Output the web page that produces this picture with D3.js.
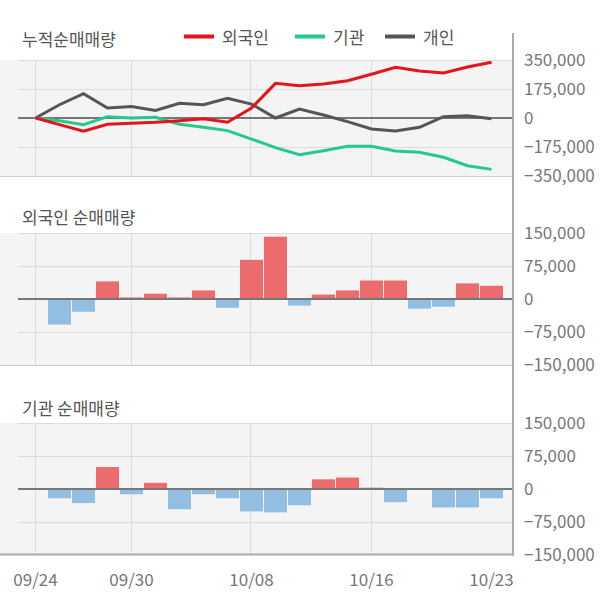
<!DOCTYPE html>
<html><head><meta charset="utf-8">
<script src="https://cdn.jsdelivr.net/npm/d3@7"></script>
<style>
html,body{margin:0;padding:0;background:#fff;}
svg{display:block;font-family:"Noto Sans CJK KR","Noto Sans",sans-serif;}
</style></head>
<body>
<svg id="c" width="600" height="604"></svg>
<script>
// ---- data ----
const dates = ["09/24","09/25","09/26","09/27","09/30","10/01","10/02","10/04","10/07","10/08",
               "10/10","10/11","10/14","10/15","10/16","10/17","10/18","10/21","10/22","10/23"];
const dateTicks = [0, 4, 9, 14, 19];
const gridTicks = [0, 4, 9, 14];

// cumulative net volume (top panel)
const cumForeign = [0,-40000,-80000,-38000,-32000,-26000,-16000,-4000,-26000,60000,
                    209000,194000,205000,225000,264000,306000,284000,272000,308000,336000];
const cumInst    = [0,-16000,-40000,8000,0,4000,-38000,-56000,-76000,-127000,
                    -179000,-221000,-197000,-171000,-171000,-199000,-207000,-237000,-288000,-310000];
const cumIndiv   = [0,80000,147000,60000,70000,46000,89000,80000,119000,84000,
                    0,54000,18000,-22000,-66000,-78000,-56000,8000,14000,-4000];

// daily net volume
const foreignNet = [0,-58000,-29000,40000,3500,12000,3500,19500,-20000,89000,
                    141500,-15000,10000,19500,42000,42000,-22000,-17500,35500,30000];
const instNet    = [0,-21000,-32000,50000,-12000,14000,-46000,-12000,-21000,-51000,
                    -53000,-37000,22000,26000,3000,-30000,0,-42000,-42000,-21000];

const topTicks = [350000,175000,0,-175000,-350000];
const barTicks = [150000,75000,0,-75000,-150000];

const seriesNames = ["외국인","기관","개인"];
const seriesColors = ["#e5131b","#25c98b","#555555"];
const titles = ["누적순매매량","외국인 순매매량","기관 순매매량"];

// ---- layout ----
const svg = d3.select("#c");
const plotRight = 512;
const gridLeft = 18;
const x = d3.scaleLinear().domain([0, dates.length - 1]).range([35.5, 491.5]);
const barW = 23;
const fmt = d3.format(",");

const panels = [
  {top:60,  bottom:176, ticks:topTicks, dom:[-350000,350000]},
  {top:233, bottom:365, ticks:barTicks, dom:[-150000,150000]},
  {top:423, bottom:555, ticks:barTicks, dom:[-150000,150000]}
];
panels.forEach(p => { p.y = d3.scaleLinear().domain(p.dom).range([p.bottom, p.top]); });

panels.forEach((p, k) => {
  const g = svg.append("g");
  g.append("rect").attr("x",0).attr("y",p.top).attr("width",plotRight).attr("height",p.bottom-p.top)
    .attr("fill","#f4f4f4");
  // horizontal grid
  g.selectAll(".hg").data(p.ticks.filter(t => t !== 0 && t !== p.dom[0])).enter().append("line")
    .attr("x1",gridLeft).attr("x2",plotRight)
    .attr("y1",d=>Math.round(p.y(d))+0.5).attr("y2",d=>Math.round(p.y(d))+0.5)
    .attr("stroke","#dcdcdc").attr("stroke-width",1);
  // vertical grid
  g.selectAll(".vg").data(gridTicks).enter().append("line")
    .attr("x1",d=>Math.round(x(d))-0.5).attr("x2",d=>Math.round(x(d))-0.5)
    .attr("y1",p.top).attr("y2",p.bottom)
    .attr("stroke","#dcdcdc").attr("stroke-width",1);
  // bottom border
  if (k < 2) {
    g.append("line").attr("x1",0).attr("x2",plotRight).attr("y1",p.bottom+0.5).attr("y2",p.bottom+0.5)
      .attr("stroke","#cccccc").attr("stroke-width",1);
  }
  // right tick labels
  g.selectAll(".tl").data(p.ticks).enter().append("text")
    .attr("x",524).attr("y",d=>p.y(d)).attr("dy","0.35em")
    .attr("font-size",17).attr("fill","#777").text(d=>fmt(d));
  // titles
  svg.append("text").attr("x",22).attr("y",[40,218,409][k]).attr("dy","0.35em")
    .attr("font-size",17).attr("fill","#555").text(titles[k]);
});

// bars
function drawBars(p, vals) {
  const data = vals.map((v,i)=>({v,i})).filter(d=>d.v !== 0);
  svg.append("g").selectAll("rect").data(data).enter().append("rect")
    .attr("x",d=>x(d.i)-barW/2).attr("width",barW)
    .attr("y",d=>d.v>0?p.y(d.v):p.y(0))
    .attr("height",d=>Math.abs(p.y(d.v)-p.y(0)))
    .attr("fill",d=>d.v>0?"#ec6c6e":"#91bee1");
}
drawBars(panels[1], foreignNet);
drawBars(panels[2], instNet);

// zero lines
panels.forEach(p => {
  svg.append("line").attr("x1",gridLeft).attr("x2",plotRight).attr("y1",p.y(0)).attr("y2",p.y(0))
    .attr("stroke","#777").attr("stroke-width",2);
});

// lines
const line = d3.line().x((d,i)=>x(i)).y(d=>panels[0].y(d));
[cumIndiv, cumInst, cumForeign].forEach((s, j) => {
  const ci = [2,1,0][j];
  svg.append("path").attr("d",line(s)).attr("fill","none")
    .attr("stroke",seriesColors[ci]).attr("stroke-width",3).attr("stroke-linejoin","miter");
});

// legend
const legX = [184, 295, 385];
seriesNames.forEach((n,i) => {
  svg.append("line").attr("x1",legX[i]).attr("x2",legX[i]+30).attr("y1",36.5).attr("y2",36.5)
    .attr("stroke",seriesColors[i]).attr("stroke-width",4);
  svg.append("text").attr("x",legX[i]+38).attr("y",38).attr("dy","0.35em")
    .attr("font-size",17).attr("fill","#555").text(n);
});

// axes frame
svg.append("line").attr("x1",0).attr("x2",514).attr("y1",554.5).attr("y2",554.5)
  .attr("stroke","#aaa").attr("stroke-width",2);
svg.append("line").attr("x1",513).attr("x2",513).attr("y1",33).attr("y2",555.5)
  .attr("stroke","#aaa").attr("stroke-width",2);

// date labels
svg.append("g").selectAll("text").data(dateTicks).enter().append("text")
  .attr("x",d=>x(d)).attr("y",580).attr("dy","0.35em").attr("text-anchor","middle")
  .attr("font-size",17).attr("fill","#777").text(d=>dates[d]);
</script>
</body></html>
